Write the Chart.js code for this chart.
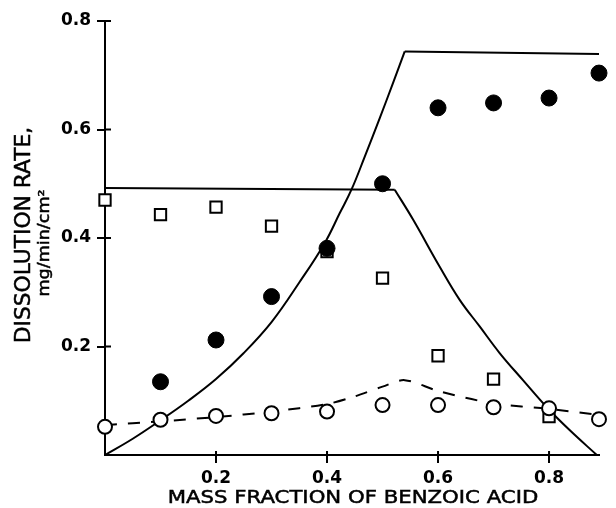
<!DOCTYPE html>
<html>
<head>
<meta charset="utf-8">
<script src="https://cdn.jsdelivr.net/npm/chart.js@4.4.0/dist/chart.umd.min.js"></script>
<style>
    html, body { margin: 0; padding: 0; background: #fff; }
    #wrap { width: 616px; height: 508px; }
</style>
</head>
<body>
<div id="wrap"><canvas id="dissolutionChart" width="616" height="508"></canvas></div>
<script>
// Measured dissolution rates (mg/min/cm²) against mass fraction of benzoic acid
const massFractions = [0, 0.1, 0.2, 0.3, 0.4, 0.5, 0.6, 0.7, 0.8, 0.89];
const filledRates = [null, 0.135, 0.212, 0.292, 0.381, 0.5, 0.64, 0.649, 0.658, 0.704];
const squareRates = [0.47, 0.443, 0.457, 0.422, 0.375, 0.326, 0.183, 0.14, 0.071, null];
const openRates = [0.052, 0.065, 0.072, 0.077, 0.08, 0.092, 0.092, 0.088, 0.086, 0.066];

// Predicted curves
const risingCurveX = [0, 0.05, 0.1, 0.15, 0.2, 0.25, 0.3, 0.35, 0.396, 0.423, 0.444, 0.468, 0.495, 0.519, 0.54];
const risingCurveY = [0, 0.03, 0.064, 0.1, 0.14, 0.188, 0.245, 0.318, 0.391, 0.446, 0.489, 0.55, 0.621, 0.686, 0.744];
const upperPlateauX = [0.54, 0.89];
const upperPlateauY = [0.744, 0.739];
const lowerPlateauX = [0, 0.522];
const lowerPlateauY = [0.492, 0.489];
const fallingCurveX = [0.522, 0.555, 0.603, 0.639, 0.675, 0.711, 0.753, 0.795, 0.837, 0.886];
const fallingCurveY = [0.489, 0.434, 0.347, 0.286, 0.237, 0.188, 0.138, 0.089, 0.046, 0];
const totalCurveX = [0, 0.1, 0.2, 0.3, 0.4, 0.45, 0.5, 0.54, 0.6, 0.7, 0.8, 0.89];
const totalCurveY = [0.055, 0.062, 0.07, 0.08, 0.094, 0.108, 0.126, 0.138, 0.118, 0.095, 0.085, 0.074];

const xTicks = [0.2, 0.4, 0.6, 0.8];
const yTicks = [0.2, 0.4, 0.6, 0.8];

const xTitle = 'MASS FRACTION OF BENZOIC ACID';
const yTitle = 'DISSOLUTION RATE,';
const yUnits = 'mg/min/cm²';

function toPoints(xs, ys) {
    return xs.map((x, i) => ({ x: x, y: ys[i] })).filter(p => p.y !== null);
}

function lineSet(xs, ys, extra) {
    return Object.assign({
        data: toPoints(xs, ys),
        showLine: true,
        borderColor: '#000',
        borderWidth: 2,
        pointRadius: 0,
        fill: false,
        clip: false,
        order: 4
    }, extra || {});
}

// text with a horizontal stretch and a thin outline so it reads a little heavier
function drawStretched(ctx, text, x, y, font, stretch, angle) {
    ctx.save();
    ctx.translate(x, y);
    ctx.rotate(angle);
    ctx.scale(stretch, 1);
    ctx.font = font;
    ctx.fillStyle = '#000';
    ctx.strokeStyle = '#000';
    ctx.lineWidth = 0.5;
    ctx.textAlign = 'center';
    ctx.textBaseline = 'middle';
    ctx.fillText(text, 0, 0);
    ctx.strokeText(text, 0, 0);
    ctx.restore();
}

// ticks that cross the axis lines, plus the axis titles
const axisDecor = {
    id: 'axisDecor',
    beforeDatasetsDraw(chart) {
        const { ctx, chartArea, scales } = chart;
        ctx.save();
        ctx.strokeStyle = '#000';
        ctx.lineWidth = 2;
        ctx.beginPath();
        xTicks.forEach(v => {
            const px = scales.x.getPixelForValue(v);
            ctx.moveTo(px, chartArea.bottom);
            ctx.lineTo(px, chartArea.bottom - 4);
        });
        yTicks.forEach(v => {
            const py = scales.y.getPixelForValue(v);
            ctx.moveTo(chartArea.left, py);
            ctx.lineTo(chartArea.left + 6, py);
        });
        ctx.stroke();
        ctx.restore();
    },
    afterDraw(chart) {
        const { ctx, chartArea } = chart;
        const midX = (chartArea.left + chartArea.right) / 2;
        const midY = (chartArea.top + chartArea.bottom) / 2;
        drawStretched(ctx, xTitle, midX + 1, 498, '18px "DejaVu Sans"', 1.18, 0);
        drawStretched(ctx, yTitle, 24, midY - 3, '22px "DejaVu Sans"', 0.99, -Math.PI / 2);
        drawStretched(ctx, yUnits, 45, midY + 5, '16px "DejaVu Sans"', 1.1, -Math.PI / 2);
    }
};

const tickFont = { family: "'DejaVu Sans', sans-serif", size: 17, weight: 'bold' };

new Chart(document.getElementById('dissolutionChart'), {
    type: 'scatter',
    data: {
        datasets: [
            {
                data: toPoints(massFractions, openRates),
                pointStyle: 'circle',
                pointRadius: 7,
                pointBackgroundColor: '#fff',
                pointBorderColor: '#000',
                pointBorderWidth: 2,
                clip: false,
                order: 1
            },
            {
                data: toPoints(massFractions, filledRates),
                pointStyle: 'circle',
                pointRadius: 8,
                pointBackgroundColor: '#000',
                pointBorderColor: '#000',
                pointBorderWidth: 1,
                clip: false,
                order: 2
            },
            {
                data: toPoints(massFractions, squareRates),
                pointStyle: 'rect',
                pointRadius: 8,
                pointBackgroundColor: '#fff',
                pointBorderColor: '#000',
                pointBorderWidth: 2,
                clip: false,
                order: 3
            },
            lineSet(risingCurveX, risingCurveY, { tension: 0.4 }),
            lineSet(upperPlateauX, upperPlateauY),
            lineSet(lowerPlateauX, lowerPlateauY),
            lineSet(fallingCurveX, fallingCurveY, { tension: 0.4 }),
            lineSet(totalCurveX, totalCurveY, { tension: 0.3, borderDash: [12, 11] })
        ]
    },
    options: {
        responsive: false,
        animation: false,
        events: [],
        layout: { padding: { top: 21, right: 17, left: 0, bottom: 0 } },
        plugins: {
            legend: { display: false },
            tooltip: { enabled: false }
        },
        scales: {
            x: {
                type: 'linear',
                min: 0,
                max: 0.89,
                afterBuildTicks: s => { s.ticks = xTicks.map(v => ({ value: v })); },
                afterFit: s => { s.height = 53; },
                grid: { drawOnChartArea: false, color: '#000', lineWidth: 2, tickLength: 8 },
                border: { display: true, color: '#000', width: 2 },
                ticks: {
                    color: '#000',
                    font: tickFont,
                    padding: 5,
                    maxRotation: 0,
                    callback: v => v.toFixed(1)
                }
            },
            y: {
                type: 'linear',
                min: 0,
                max: 0.8,
                afterBuildTicks: s => { s.ticks = yTicks.map(v => ({ value: v })); },
                afterFit: s => { s.width = 105; },
                grid: { drawOnChartArea: false, color: '#000', lineWidth: 2, tickLength: 8 },
                border: { display: true, color: '#000', width: 2 },
                ticks: {
                    color: '#000',
                    font: tickFont,
                    padding: 6,
                    callback: v => v.toFixed(1)
                }
            }
        }
    },
    plugins: [axisDecor]
});
</script>
</body>
</html>
